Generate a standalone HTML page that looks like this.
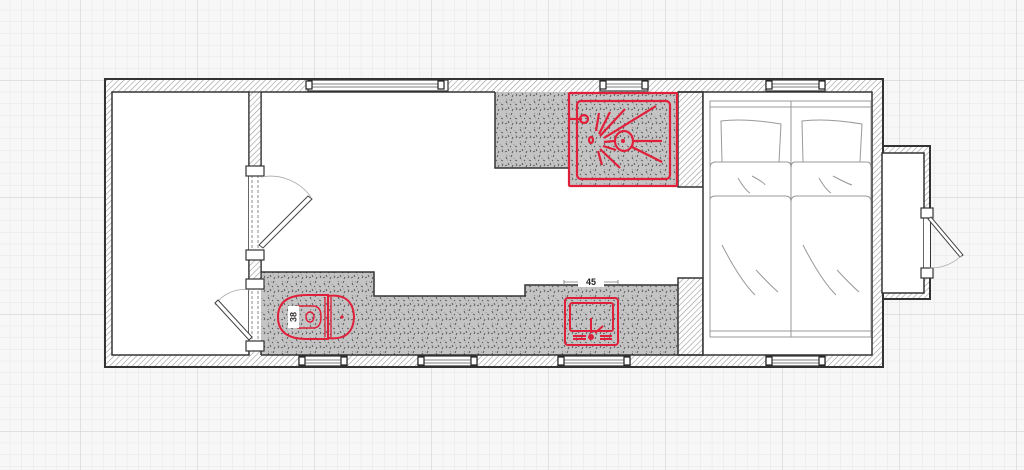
<!DOCTYPE html>
<html><head><meta charset="utf-8"><style>html,body{margin:0;padding:0;background:#f7f7f7}svg{display:block}</style></head>
<body>
<svg width="1024" height="470" viewBox="0 0 1024 470" xmlns="http://www.w3.org/2000/svg">
<defs>
<pattern id="minor" x="80" y="80" width="11.7" height="11.7" patternUnits="userSpaceOnUse">
<path d="M0 0H11.7M0 0V11.7" stroke="#e6e6e6" stroke-width="1" fill="none"/>
</pattern>
<pattern id="major" x="80" y="80" width="117" height="117" patternUnits="userSpaceOnUse">
<path d="M0 0H117M0 0V117" stroke="#d2d2d2" stroke-width="1.2" fill="none"/>
</pattern>
<pattern id="hatch" width="4" height="4" patternUnits="userSpaceOnUse" patternTransform="rotate(45)">
<rect width="4" height="4" fill="#fff"/><line x1="0" y1="0" x2="0" y2="4" stroke="#9a9a9a" stroke-width="1.2"/>
</pattern>
<pattern id="terr" width="14" height="14" patternUnits="userSpaceOnUse">
<rect width="14" height="14" fill="#c4c4c4"/>
<path d="M2 3l1 2M8 1l-1 2M11 6l2 1M4 9l1 2M9 11l-1 2M1 12l2-1M6 6l1 1M12 12l1-2" stroke="#555" stroke-width="0.9"/>
<path d="M5 2l1 0M10 4l0 1M3 6l1 0M7 9l1 0M12 9l0 1M2 1l1 1" stroke="#888" stroke-width="0.8"/>
</pattern>
</defs>
<rect width="1024" height="470" fill="#f7f7f7"/>
<rect width="1024" height="470" fill="url(#minor)"/>
<rect width="1024" height="470" fill="url(#major)"/>

<rect x="105" y="79" width="778" height="288" fill="url(#hatch)" stroke="#333" stroke-width="2"/>
<rect x="883" y="146" width="47" height="153" fill="url(#hatch)" stroke="#333" stroke-width="2"/>
<rect x="882" y="153" width="42" height="140" fill="#fff" stroke="#333" stroke-width="1.5"/>
<rect x="112" y="92" width="137" height="263" fill="#fff" stroke="#333" stroke-width="1.5"/>
<path d="M261 92H703V355H261Z" fill="#fff"/>
<rect x="495" y="92" width="75" height="76" fill="url(#terr)"/>
<path d="M495 92V168H570" fill="none" stroke="#333" stroke-width="1.5"/>
<path d="M261 272H374V296H525V285H678V355H261Z" fill="url(#terr)"/>
<path d="M261 272H374V296H525V285H678" fill="none" stroke="#333" stroke-width="1.5"/>
<rect x="678" y="92" width="25" height="95" fill="url(#hatch)" stroke="#333" stroke-width="1.5"/>
<rect x="678" y="278" width="25" height="77" fill="url(#hatch)" stroke="#333" stroke-width="1.5"/>
<rect x="703" y="92" width="169" height="263" fill="#fff" stroke="#333" stroke-width="1.5"/>
<path d="M261 92V167M261 252V278M261 350V355" stroke="#333" stroke-width="1.5"/>
<path d="M261 92H495M678 92H703" stroke="#333" stroke-width="1.5"/>
<path d="M261 355H703" stroke="#333" stroke-width="1.5"/>
<rect x="249" y="92" width="12" height="75" fill="url(#hatch)" stroke="#333" stroke-width="1.2"/>
<rect x="249" y="257" width="12" height="27" fill="url(#hatch)" stroke="#333" stroke-width="1.2"/>
<rect x="249" y="173" width="12" height="79" fill="#fff"/>
<line x1="252" y1="175" x2="252" y2="252" stroke="#888" stroke-dasharray="3,2"/>
<line x1="258" y1="175" x2="258" y2="252" stroke="#888" stroke-dasharray="3,2"/>
<rect x="249" y="290" width="12" height="55" fill="#fff"/>
<line x1="252" y1="291" x2="252" y2="344" stroke="#888" stroke-dasharray="3,2"/>
<line x1="258" y1="291" x2="258" y2="344" stroke="#888" stroke-dasharray="3,2"/>
<g fill="#fff" stroke="#333" stroke-width="1.2">
<rect x="246" y="166" width="18" height="10"/><rect x="246" y="250" width="18" height="10"/>
<rect x="246" y="279" width="18" height="10"/><rect x="246" y="341" width="18" height="10"/>
</g>
<path d="M261 177 A 50 50 0 0 1 311 197" fill="none" stroke="#aaa" stroke-width="0.8"/>
<polygon points="308,196 312,199 263,248 259,245" fill="#fff" stroke="#444" stroke-width="1"/>
<path d="M250 290 A 35 35 0 0 0 215 305" fill="none" stroke="#aaa" stroke-width="0.8"/>
<polygon points="215,303 218,300 252,337 249,340" fill="#fff" stroke="#444" stroke-width="1"/>

<g fill="#fff" stroke="#333" stroke-width="1.2">
<rect x="308" y="80" width="140" height="11"/><rect x="600" y="80" width="48" height="11"/><rect x="766" y="80" width="59" height="11"/>
<rect x="299" y="356" width="48" height="10"/><rect x="418" y="356" width="59" height="10"/><rect x="558" y="356" width="72" height="10"/><rect x="766" y="356" width="59" height="10"/>
</g>
<g stroke="#555" stroke-width="0.8">
<path d="M312 84H444M312 87H444M604 84H644M604 87H644M770 84H821M770 87H821"/>
<path d="M303 360H343M303 363H343M422 360H473M422 363H473M562 360H626M562 363H626M770 360H821M770 363H821"/>
</g>
<g fill="#fff" stroke="#222" stroke-width="1.2">
<rect x="306" y="81" width="6" height="8"/><rect x="438" y="81" width="6" height="8"/>
<rect x="600" y="81" width="6" height="8"/><rect x="642" y="81" width="6" height="8"/>
<rect x="766" y="81" width="6" height="8"/><rect x="819" y="81" width="6" height="8"/>
<rect x="299" y="357" width="6" height="8"/><rect x="341" y="357" width="6" height="8"/>
<rect x="418" y="357" width="6" height="8"/><rect x="471" y="357" width="6" height="8"/>
<rect x="558" y="357" width="6" height="8"/><rect x="624" y="357" width="6" height="8"/>
<rect x="766" y="357" width="6" height="8"/><rect x="819" y="357" width="6" height="8"/>
</g>

<rect x="924" y="215" width="6" height="58" fill="#fff"/>
<g fill="#fff" stroke="#333" stroke-width="1.2"><rect x="921" y="208" width="12" height="10"/><rect x="921" y="268" width="12" height="10"/></g>
<polygon points="928,219 931,217 963,255 960,257" fill="#fff" stroke="#444" stroke-width="1"/>
<path d="M961 256 A 45 45 0 0 1 930 268" fill="none" stroke="#aaa" stroke-width="0.8"/>

<g fill="none" stroke="#999" stroke-width="1">
<rect x="710" y="101" width="161" height="236"/>
<line x1="710" y1="107" x2="871" y2="107"/><line x1="710" y1="331" x2="871" y2="331"/>
<line x1="791" y1="101" x2="791" y2="337"/>
<path d="M721 121Q745 118 781 124L779 162H722Z"/><path d="M802 121Q826 118 862 124L860 162H803Z"/>
<path d="M714 162H787Q791 162 791 168Q791 162 795 162H867Q871 162 871 168M710 200Q710 196 716 196H785Q791 196 791 202Q791 196 797 196H865Q871 196 871 202"/>
<path d="M710 168Q710 162 716 162"/>
<path d="M738 178Q745 190 750 193M752 176Q765 183 765 185M819 178Q826 190 831 193M833 176Q846 183 852 185"/>
<path d="M722 245Q740 280 755 295M756 270Q770 285 778 292M803 245Q821 280 836 295M837 270Q851 285 859 292"/>
</g>

<rect x="569" y="93" width="108" height="93" fill="url(#terr)"/>
<g stroke="#e0203a" fill="none" stroke-width="2.2">
<rect x="569" y="93" width="108" height="93" rx="1"/>
<rect x="577" y="101" width="93" height="78" rx="4"/>
<circle cx="584" cy="119" r="4"/>
<line x1="570" y1="119" x2="582" y2="119"/>
<ellipse cx="624" cy="141" rx="9" ry="10"/>
<ellipse cx="591" cy="140" rx="2" ry="3"/>
<path d="M596 131L599 113M599 134L610 112M600 136L625 109M604 138L656 106M604 142L614 141M634 141L662 141M603 146L616 150M632 147L662 162M600 149L620 168M598 151L602 165"/>
</g>
<circle cx="623" cy="141" r="2" fill="#e0203a"/>

<g stroke="#e0203a" fill="none" stroke-width="2">
<path d="M328 295H307Q278 295 278 317Q278 339 307 339H328Z"/>
<path d="M328 296Q353 293 354 317Q353 341 328 338"/>
<path d="M325 297V337M331 297V337" stroke-width="1.3"/>
<path d="M298 306H313Q321 306 321 317Q321 328 313 328H298Z" stroke-width="1.5"/>
<ellipse cx="310" cy="317" rx="4" ry="5" stroke-width="1.5"/>
</g>
<rect x="288" y="306" width="11" height="22" fill="#fff"/>
<text x="294" y="317" font-family="Liberation Sans, sans-serif" font-size="9" font-weight="bold" fill="#333" text-anchor="middle" dominant-baseline="middle" transform="rotate(-90 294 317)">38</text>
<circle cx="342" cy="317" r="1.6" fill="#e0203a"/>

<g stroke="#e0203a" fill="none" stroke-width="2">
<rect x="565" y="298" width="53" height="47" rx="3"/>
<rect x="570" y="303" width="43" height="28" rx="2"/>
<path d="M591 318V333M595 333L603 326M573 336H586M573 339H586M600 336H612M600 339H612"/>
</g>
<circle cx="591" cy="337" r="3" fill="#e0203a"/>
<g stroke="#777" stroke-width="0.8"><path d="M564 285V280M618 285V280M564 282H578M604 282H618"/></g>
<rect x="578" y="276" width="26" height="11" fill="#fff"/>
<text x="591" y="285" font-family="Liberation Sans, sans-serif" font-size="9" font-weight="bold" fill="#222" text-anchor="middle">45</text>
</svg>
</body></html>
